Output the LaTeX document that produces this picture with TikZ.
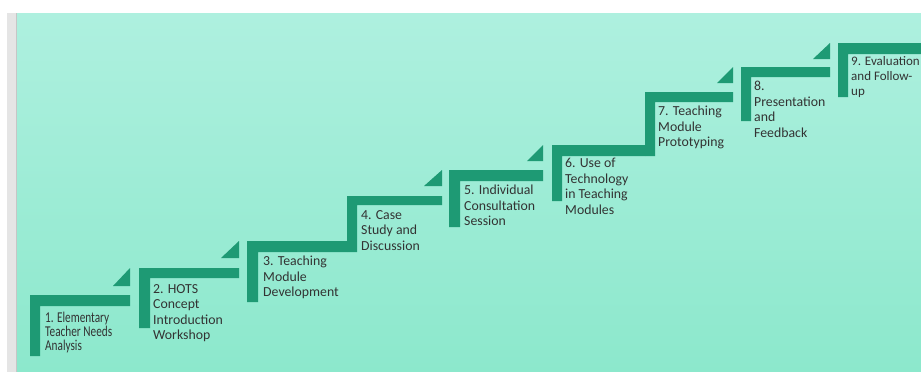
\documentclass[tikz,border=0pt]{standalone}
\usepackage{fontspec}
\usepackage{xcolor}
\setmainfont{Carlito}
\newfontfamily\narrowfont[FakeStretch=0.75]{Carlito}
\usetikzlibrary{positioning}
\definecolor{mintTop}{HTML}{AEF0DF}
\definecolor{mintBottom}{HTML}{8CE8CC}
\definecolor{stairGreen}{HTML}{1E9A74}
\definecolor{labelGray}{HTML}{333333}
\tikzstyle{stair} = [fill=stairGreen, draw=none]
\tikzstyle{wedge} = [fill=stairGreen, draw=none]
% labels are placed by the baseline of their first line
\tikzstyle{steptext} = [anchor=north west, yshift=11pt, inner sep=0pt, align=left, text=labelGray, font=\fontsize{13.8}{15.6}\selectfont, execute at begin node={\rule{0pt}{11pt}}]

\begin{document}
\begin{tikzpicture}[x=1pt, y=-1pt]
        \useasboundingbox (0,0) rectangle (921,372);
        % backdrop
        \fill[gray!20] (7,13) rectangle (17,372);
        \draw[gray!45] (16.5,13) -- (16.5,372);
        \shade[top color=mintTop, bottom color=mintBottom] (17,13) rectangle (921,372);

        % step 1
        \fill[stair] (30,295) -- (130,295) -- (130,306) -- (40,306) -- (40,356) -- (30,356) -- cycle;
        \fill[wedge] (113,286) -- (130,286) -- (130,268) -- cycle;
        \node (s1) [steptext, font=\narrowfont\fontsize{15}{14}\selectfont] at (45,323) {1. Elementary\\Teacher Needs\\Analysis};
        % step 2
        \fill[stair] (139,268) -- (239,268) -- (239,278) -- (150,278) -- (150,328) -- (139,328) -- cycle;
        \fill[wedge] (221,258) -- (239,258) -- (239,241) -- cycle;
        \node (s2) [steptext] at (153,295) {2. HOTS\\Concept\\Introduction\\Workshop};
        % step 3
        \fill[stair] (247,241) -- (347,241) -- (347,252) -- (258,252) -- (258,302) -- (247,302) -- cycle;
        \node (s3) [steptext] at (263,267) {3. Teaching\\Module\\Development};
        % step 4
        \fill[stair] (347,196) -- (442,196) -- (442,205) -- (357,205) -- (357,252) -- (347,252) -- cycle;
        \fill[wedge] (424,186) -- (442,186) -- (442,170) -- cycle;
        \node (s4) [steptext] at (361,221) {4. Case\\Study and\\Discussion};
        % step 5
        \fill[stair] (449,170) -- (543,170) -- (543,181) -- (460,181) -- (460,227) -- (449,227) -- cycle;
        \fill[wedge] (527,161) -- (543,161) -- (543,145) -- cycle;
        \node (s5) [steptext] at (464,196) {5. Individual\\Consultation\\Session};
        % step 6
        \fill[stair] (552,145) -- (645,145) -- (645,156) -- (562,156) -- (562,201) -- (552,201) -- cycle;
        \node (s6) [steptext] at (565,169) {6. Use of\\Technology\\in Teaching\\Modules};
        % step 7
        \fill[stair] (645,92) -- (733,92) -- (733,102) -- (655,102) -- (655,156) -- (645,156) -- cycle;
        \fill[wedge] (717,83) -- (733,83) -- (733,67) -- cycle;
        \node (s7) [steptext] at (658,117) {7. Teaching\\Module\\Prototyping};
        % step 8
        \fill[stair] (741,67) -- (830,67) -- (830,77) -- (751,77) -- (751,121) -- (741,121) -- cycle;
        \fill[wedge] (813,59) -- (830,59) -- (830,43) -- cycle;
        \node (s8) [steptext] at (754,92) {8.\\Presentation\\and\\Feedback};
        % step 9
        \fill[stair] (838,43) -- (921,43) -- (921,54) -- (848,54) -- (848,97) -- (838,97) -- cycle;
        \node (s9) [steptext, font=\fontsize{13}{15}\selectfont] at (851,67) {9. Evaluation\\and Follow-\\up};
\end{tikzpicture}
\end{document}
